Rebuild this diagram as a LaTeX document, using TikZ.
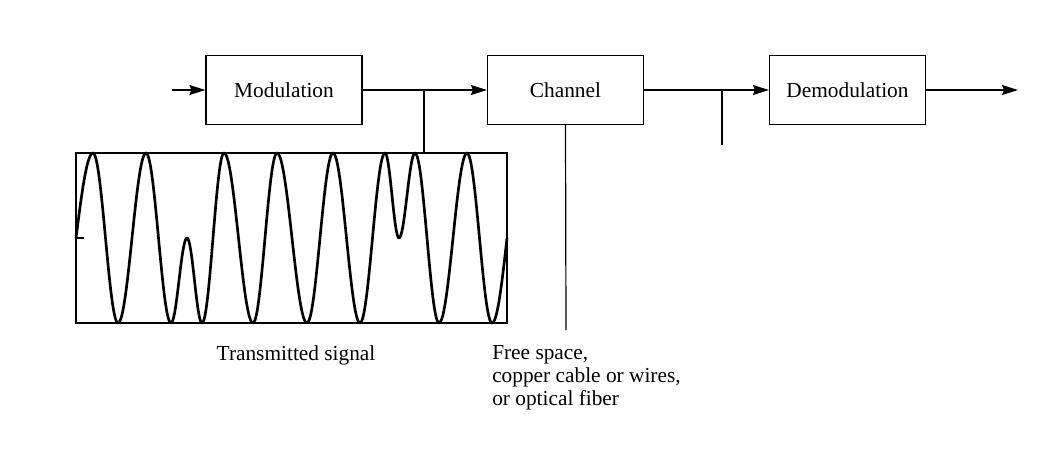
\documentclass[tikz,border=0pt]{standalone}
\usepackage{fontspec}
\setmainfont{Liberation Serif}
\usetikzlibrary{arrows.meta}
\begin{document}
\begin{tikzpicture}[x=0.75pt,y=-0.75pt,
  every node/.style={font=\fontsize{16}{20}\selectfont},
  blk/.style={draw,line width=0.9pt,minimum width=117pt,minimum height=51.75pt,inner sep=0pt},
  conn/.style={line width=0.9pt},
  arr/.style={conn,-{Stealth[length=12pt,width=7.5pt,inset=1.5pt]}},
  wave/.style={line width=2pt,line join=round}]
\useasboundingbox (0,0) rectangle (1060,468);
% blocks
\node[blk] (mod) at (284,90) {Modulation};
\node[blk] (chan) at (565.5,90) {Channel};
\node[blk] (demod) at (847.5,90) {Demodulation};
\node[draw,line width=0.9pt,minimum width=323.25pt,minimum height=127.5pt,inner sep=0pt] (sig) at (291.5,238) {};
% coordinates
\coordinate (in) at (172,90);
\coordinate (out) at (1018,90);
\coordinate (b1) at (424,90);
\coordinate (b2) at (722,90);
\coordinate (b2end) at (722,145);
\coordinate (chend) at (566,330);
% connectors
\draw[arr] (in) -- (mod.west);
\draw[conn] (mod.east) -- (b1);
\draw[arr] (b1) -- (chan.west);
\draw[conn] (b1) -- (b1 |- sig.north);
\draw[conn] (chan.east) -- (b2);
\draw[arr] (b2) -- (demod.west);
\draw[conn] (b2) -- (b2end);
\draw[conn] (chan.south) -- (chend);
\draw[arr] (demod.east) -- (out);
% waveform
\draw[wave] (76,238)
  \foreach \xa/\ya/\xb/\yb/\da/\db in {
    59/323/93/153/76/93,
    93/153/118/323/93/118,
    118/323/146/153/118/146,
    146/153/171/323/146/171,
    171/323/187/238/171/187,
    187/238/202/323/187/202,
    202/323/224/153/202/224,
    224/153/253/323/224/253,
    253/323/277/153/253/277,
    277/153/307/323/277/307,
    307/323/333/153/307/333,
    333/153/360/323/333/360,
    360/323/385/153/360/385,
    385/153/399/238/385/399,
    399/238/415/153/399/415,
    415/153/439/323/415/439,
    439/323/467/153/439/467,
    467/153/492/323/467/492,
    492/323/522/153/492/507}
  { -- plot[domain=\da:\db,samples=24,smooth] (\x,{\ya+(\yb-\ya)*(1-cos(180*(\x-\xa)/(\xb-\xa)))/2}) };
\draw[line width=0.9pt] (76,238) -- (84,238);
% labels
\node[anchor=west] (tslabel) at (212,355) {Transmitted signal};
\node[anchor=north west,align=left,inner sep=0pt,font=\fontsize{16}{17.5}\selectfont] (medium) at (492,345) {Free space,\\copper cable or wires,\\or optical fiber};
\end{tikzpicture}
\end{document}
